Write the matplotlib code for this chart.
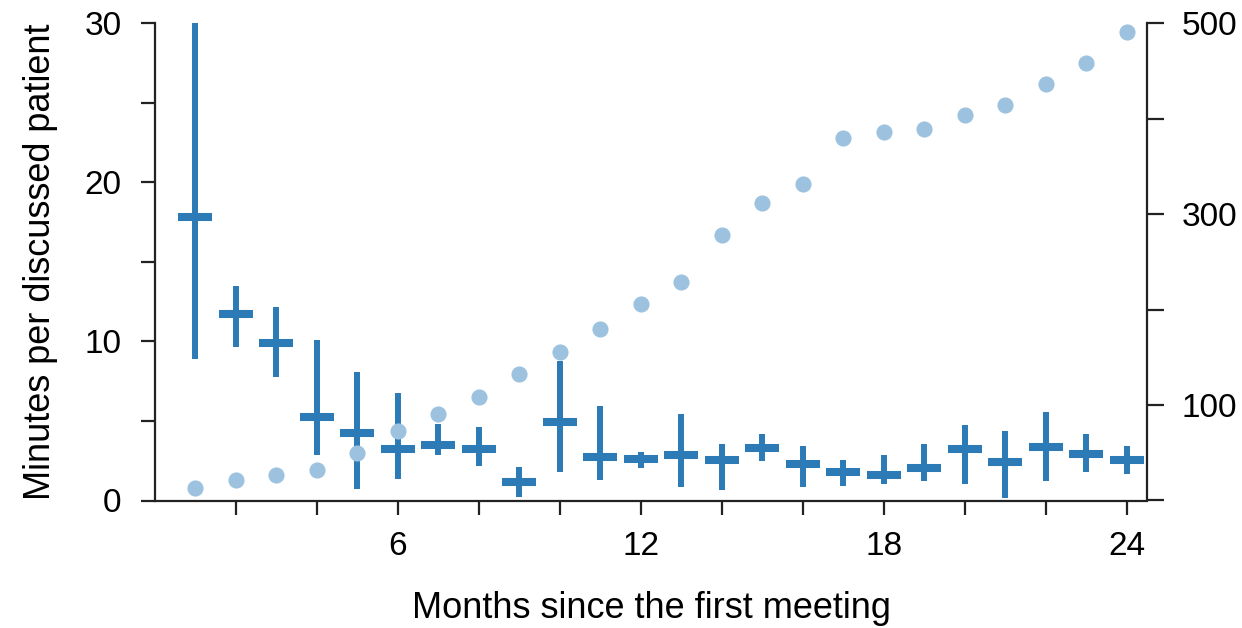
import matplotlib.pyplot as plt
import numpy as np

plt.rcParams["font.family"] = ["Liberation Sans", "DejaVu Sans"]

# month since first meeting
months = np.arange(1, 25)

# minutes per discussed patient: centre and interval ends
minutes_mid = [17.8, 11.74, 9.9, 5.24, 4.23, 3.25, 3.46, 3.25, 1.15, 4.93, 2.73, 2.62,
               2.89, 2.56, 3.31, 2.31, 1.82, 1.61, 2.06, 3.21, 2.45, 3.35, 2.93, 2.52]
minutes_hi = [30.0, 13.46, 12.16, 10.1, 8.07, 6.75, 4.82, 4.61, 2.1, 8.8, 5.91, 3.08,
              5.45, 3.56, 4.15, 3.42, 2.56, 2.83, 3.56, 4.72, 4.4, 5.55, 4.15, 3.4]
minutes_lo = [8.9, 9.64, 7.75, 2.83, 0.73, 1.36, 2.83, 2.2, 0.2, 1.78, 1.3, 2.05,
              0.88, 0.63, 2.47, 0.88, 0.92, 1.05, 1.22, 1.05, 0.17, 1.22, 1.78, 1.64]

# cumulative count (right axis)
patients = [13.3, 21, 26.2, 32.2, 49.6, 72.7, 90.9, 108.4, 132.9, 155.5, 179.4, 206.3,
            228.7, 278.7, 311.2, 331.1, 379.5, 386.2, 389.2, 404.3, 414.3, 436.3, 458.2, 491.2]

DARK = "#2c7bb6"
LIGHT = "#9cc2df"
AXC = "#222222"

mid = np.array(minutes_mid)
yerr = np.vstack([mid - np.array(minutes_lo), np.array(minutes_hi) - mid])

fig = plt.figure(figsize=(12.42, 6.28), dpi=100)
ax = fig.add_axes([155 / 1242, 1 - 500.5 / 628, (1147 - 155) / 1242, (500.5 - 23.3) / 628])

ax.errorbar(months, mid, yerr=yerr, fmt="_", color=DARK, ecolor=DARK,
            elinewidth=4.3, capsize=0, markersize=25, markeredgewidth=5.8)

ax.set_xlim(0, 24.5)
ax.set_ylim(0, 30)
ax.set_xticks(np.arange(2, 25, 2))
ax.set_xticklabels([str(m) if m % 6 == 0 else "" for m in range(2, 25, 2)])
ax.set_yticks(np.arange(0, 31, 5))
ax.set_yticklabels([str(v) if v % 10 == 0 else "" for v in range(0, 31, 5)])

ax2 = ax.twinx()
ax2.scatter(months, patients, s=135, color=LIGHT, linewidths=0, zorder=3)
ax2.set_ylim(0, 500)
ax2.set_yticks(np.arange(0, 501, 100))
ax2.set_yticklabels(["", "100", "", "300", "", "500"])

for a in (ax, ax2):
    a.spines["top"].set_visible(False)
    for s in a.spines.values():
        s.set_linewidth(1.6)
        s.set_color(AXC)
ax.spines["right"].set_visible(False)
ax2.spines["left"].set_visible(False)
ax2.spines["bottom"].set_visible(False)

ax.tick_params(axis="x", length=10, width=1.6, color=AXC, labelsize=24, pad=12)
ax.tick_params(axis="y", length=10, width=1.6, color=AXC, labelsize=24, pad=14)
ax2.tick_params(axis="y", length=12, width=1.6, color=AXC, labelsize=24, pad=13)

ax.set_xlabel("Months since the first meeting", fontsize=26, labelpad=21)
ax.set_ylabel("Minutes per discussed patient", fontsize=26, labelpad=19)

fig.savefig("out.png", dpi=100)
